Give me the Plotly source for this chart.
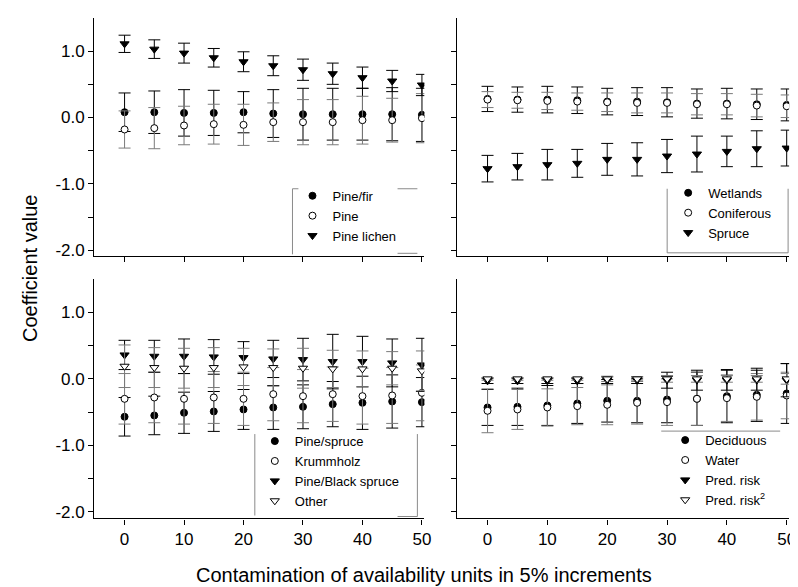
import plotly.graph_objects as go

# ---------------- data ----------------
contamination = [0, 5, 10, 15, 20, 25, 30, 35, 40, 45, 50]

# Panel A (top-left)
pine_fir = [0.08, 0.08, 0.07, 0.07, 0.08, 0.06, 0.05, 0.05, 0.05, 0.05, 0.04]
pine_fir_err = [0.29, 0.32, 0.35, 0.34, 0.31, 0.36, 0.39, 0.39, 0.39, 0.40, 0.40]
pine = [-0.18, -0.16, -0.12, -0.10, -0.11, -0.07, -0.07, -0.07, -0.04, -0.04, -0.01]
pine_err = [0.28, 0.31, 0.29, 0.30, 0.31, 0.29, 0.34, 0.34, 0.36, 0.33, 0.37]
pine_lichen = [1.11, 1.03, 0.97, 0.90, 0.84, 0.78, 0.72, 0.66, 0.60, 0.55, 0.49]
pine_lichen_err = [0.13, 0.14, 0.15, 0.14, 0.15, 0.15, 0.16, 0.16, 0.16, 0.16, 0.16]

# Panel B (top-right)
wetlands = [0.28, 0.27, 0.27, 0.26, 0.24, 0.24, 0.23, 0.21, 0.21, 0.20, 0.19]
wetlands_err = [0.19, 0.19, 0.20, 0.20, 0.20, 0.21, 0.22, 0.22, 0.23, 0.23, 0.24]
coniferous = [0.27, 0.26, 0.25, 0.24, 0.23, 0.22, 0.22, 0.20, 0.20, 0.18, 0.17]
coniferous_err = [0.12, 0.12, 0.13, 0.13, 0.14, 0.15, 0.15, 0.16, 0.16, 0.17, 0.17]
spruce = [-0.77, -0.74, -0.71, -0.69, -0.63, -0.63, -0.58, -0.55, -0.51, -0.47, -0.46]
spruce_err = [0.20, 0.20, 0.23, 0.21, 0.24, 0.25, 0.25, 0.27, 0.23, 0.27, 0.27]

# Panel C (bottom-left)
pine_spruce = [-0.57, -0.55, -0.51, -0.49, -0.46, -0.43, -0.42, -0.38, -0.36, -0.34, -0.35]
pine_spruce_err = [0.29, 0.29, 0.31, 0.30, 0.30, 0.33, 0.33, 0.34, 0.40, 0.40, 0.37]
krummholz = [-0.30, -0.28, -0.30, -0.28, -0.30, -0.23, -0.26, -0.23, -0.26, -0.25, -0.21]
krummholz_err = [0.38, 0.38, 0.38, 0.39, 0.40, 0.40, 0.40, 0.41, 0.42, 0.42, 0.42]
pine_black_spruce = [0.36, 0.34, 0.34, 0.33, 0.32, 0.30, 0.29, 0.26, 0.26, 0.24, 0.21]
pine_black_spruce_err = [0.22, 0.24, 0.26, 0.26, 0.24, 0.28, 0.32, 0.41, 0.38, 0.36, 0.40]
other = [0.19, 0.17, 0.16, 0.17, 0.18, 0.17, 0.16, 0.15, 0.15, 0.16, 0.12]
other_err = [0.32, 0.30, 0.30, 0.30, 0.28, 0.28, 0.30, 0.28, 0.27, 0.25, 0.30]

# Panel D (bottom-right)
deciduous = [-0.43, -0.42, -0.40, -0.37, -0.33, -0.33, -0.31, -0.30, -0.26, -0.24, -0.22]
deciduous_err = [0.27, 0.28, 0.30, 0.30, 0.32, 0.33, 0.35, 0.40, 0.40, 0.40, 0.45]
water = [-0.48, -0.46, -0.43, -0.41, -0.39, -0.36, -0.35, -0.30, -0.29, -0.27, -0.25]
water_err = [0.33, 0.30, 0.28, 0.28, 0.30, 0.32, 0.35, 0.40, 0.35, 0.35, 0.35]
pred_risk = [-0.03, -0.03, -0.03, -0.03, -0.02, -0.02, -0.02, -0.02, -0.02, -0.02, -0.02]
pred_risk_err = [0.04, 0.04, 0.04, 0.04, 0.05, 0.05, 0.12, 0.15, 0.15, 0.15, 0.25]
pred_risk2 = [0.00, 0.00, 0.00, 0.00, 0.00, 0.00, 0.00, 0.00, 0.00, 0.00, 0.00]
pred_risk2_err = [0.02, 0.02, 0.02, 0.02, 0.04, 0.03, 0.05, 0.05, 0.05, 0.05, 0.08]

x_ticks = [0, 10, 20, 30, 40, 50]
x_tick_labels = ["0", "10", "20", "30", "40", "50"]
y_ticks = [-2.0, -1.0, 0.0, 1.0]
y_tick_labels = ["-2.0", "-1.0", "0.0", "1.0"]
y_minor_ticks = [-1.5, -0.5, 0.5]

# ---------------- styling ----------------
FONT = "Liberation Sans, Arial, Helvetica, sans-serif"
W, H = 798, 587

STYLES = {
    "filled_circle": dict(symbol="circle", size=7, color="black", line=dict(color="black", width=1)),
    "open_circle": dict(symbol="circle", size=7, color="white", line=dict(color="black", width=1)),
    "filled_tri": dict(symbol="triangle-down", size=8, color="black", line=dict(color="black", width=1)),
    "open_tri": dict(symbol="triangle-down", size=8, color="white", line=dict(color="black", width=1)),
}
ERR_COL = {"filled_circle": "black", "filled_tri": "black",
           "open_circle": "#7a7a7a", "open_tri": "#7a7a7a"}

fig = go.Figure()


def add(y, err, name, style, ax, legend):
    fig.add_trace(go.Scatter(
        x=contamination, y=y, name=name, mode="markers",
        marker=STYLES[style],
        error_y=dict(type="data", array=err, visible=True,
                     color=ERR_COL[style], thickness=1, width=6),
        xaxis="x" + ax, yaxis="y" + ax, legend=legend,
    ))


add(pine_fir, pine_fir_err, "Pine/fir", "filled_circle", "", "legend")
add(pine, pine_err, "Pine", "open_circle", "", "legend")
add(pine_lichen, pine_lichen_err, "Pine lichen", "filled_tri", "", "legend")

add(wetlands, wetlands_err, "Wetlands", "filled_circle", "2", "legend2")
add(coniferous, coniferous_err, "Coniferous", "open_circle", "2", "legend2")
add(spruce, spruce_err, "Spruce", "filled_tri", "2", "legend2")

add(pine_spruce, pine_spruce_err, "Pine/spruce", "filled_circle", "3", "legend3")
add(krummholz, krummholz_err, "Krummholz", "open_circle", "3", "legend3")
add(pine_black_spruce, pine_black_spruce_err, "Pine/Black spruce", "filled_tri", "3", "legend3")
add(other, other_err, "Other", "open_tri", "3", "legend3")

add(deciduous, deciduous_err, "Deciduous", "filled_circle", "4", "legend4")
add(water, water_err, "Water", "open_circle", "4", "legend4")
add(pred_risk, pred_risk_err, "Pred. risk", "filled_tri", "4", "legend4")
add(pred_risk2, pred_risk2_err, "Pred. risk<sup>2</sup>", "open_tri", "4", "legend4")


def px_x(p):
    return p / W


def px_y(p):
    return 1 - p / H


left_dom = [px_x(87), px_x(420)]
right_dom = [px_x(453), px_x(788)]
top_dom = [px_y(250), px_y(10)]
bot_dom = [px_y(514), px_y(273)]

axis_common = dict(showgrid=False, zeroline=False, showline=True, linecolor="black",
                   linewidth=1.3, ticks="outside", ticklen=5, tickwidth=1, tickcolor="black",
                   tickfont=dict(family=FONT, size=17, color="black"))


def xaxis(dom, anchor, labels):
    return dict(domain=dom, anchor=anchor, range=[-5.1, 50.4], tickmode="array",
                tickvals=x_ticks, ticktext=x_tick_labels, showticklabels=labels, **axis_common)


def yaxis(dom, anchor, labels, rng):
    return dict(domain=dom, anchor=anchor, range=rng, tickmode="array",
                tickvals=y_ticks, ticktext=y_tick_labels, showticklabels=labels,
                minor=dict(tickmode="array", tickvals=y_minor_ticks, ticks="outside",
                           ticklen=5, tickwidth=1, tickcolor="black", showgrid=False),
                **axis_common)


def legend_at(xp, yp):
    return dict(x=px_x(xp), y=px_y(yp), xanchor="left", yanchor="top",
                bgcolor="rgba(0,0,0,0)", borderwidth=0,
                font=dict(family=FONT, size=13, color="black"))


fig.update_layout(
    width=W, height=H, margin=dict(l=0, r=0, t=0, b=0),
    paper_bgcolor="white", plot_bgcolor="white",
    xaxis=xaxis(left_dom, "y", False), yaxis=yaxis(top_dom, "x", True, [-2.09, 1.5]),
    xaxis2=xaxis(right_dom, "y2", False), yaxis2=yaxis(top_dom, "x2", False, [-2.09, 1.5]),
    xaxis3=xaxis(left_dom, "y3", True), yaxis3=yaxis(bot_dom, "x3", True, [-2.1, 1.5]),
    xaxis4=xaxis(right_dom, "y4", True), yaxis4=yaxis(bot_dom, "x4", False, [-2.1, 1.5]),
    legend=legend_at(287, 174),
    legend2=legend_at(666, 171),
    legend3=legend_at(249, 421),
    legend4=legend_at(663, 420),
    showlegend=True,
)

# legend frame lines (partial boxes as in the original)
GRAY = "#8a8a8a"
frame_segments = [
    # top-left legend
    (287, 182, 287, 248), (287, 182, 293, 182), (393, 182, 413, 182), (393, 247, 413, 247),
    # top-right legend
    (665, 182, 665, 246.5), (665, 246.5, 787, 246.5), (787, 182, 787, 246.5),
    # bottom-left legend
    (249, 429, 249, 511), (413, 429, 413, 512), (393, 512, 413, 512),
    # bottom-right legend
    (659, 426, 779, 426),
]
for x0, y0, x1, y1 in frame_segments:
    fig.add_shape(type="line", xref="paper", yref="paper",
                  x0=px_x(x0), y0=px_y(y0), x1=px_x(x1), y1=px_y(y1),
                  line=dict(color=GRAY, width=1))

fig.add_annotation(text="Coefficient value", xref="paper", yref="paper",
                   x=px_x(22), y=px_y(262), xanchor="center", yanchor="middle",
                   textangle=-90, showarrow=False,
                   font=dict(family=FONT, size=20, color="black"))
fig.add_annotation(text="Contamination of availability units in 5% increments",
                   xref="paper", yref="paper", x=px_x(420), y=px_y(571),
                   xanchor="center", yanchor="middle", showarrow=False,
                   font=dict(family=FONT, size=20, color="black"))

fig.write_html("out.html")
